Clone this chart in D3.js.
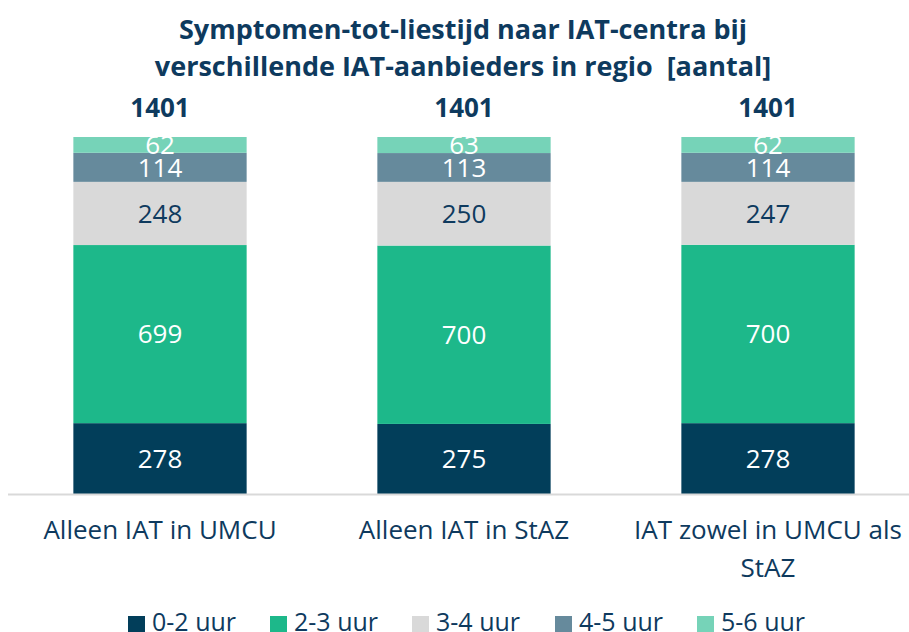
<!DOCTYPE html>
<html>
<head>
<meta charset="utf-8">
<script src="https://cdn.jsdelivr.net/npm/d3@7"></script>
<style>
  body { margin: 0; background: #fff; }
  text { font-family: "Open Sans", "Noto Sans", sans-serif; }
</style>
</head>
<body>
<script>
// Data
const categories = ["Alleen IAT in UMCU", "Alleen IAT in StAZ", "IAT zowel in UMCU als StAZ"];
const series = ["0-2 uur", "2-3 uur", "3-4 uur", "4-5 uur", "5-6 uur"];
const values = {
    "0-2 uur": [278, 275, 278],
    "2-3 uur": [699, 700, 700],
    "3-4 uur": [248, 250, 247],
    "4-5 uur": [114, 113, 114],
    "5-6 uur": [62, 63, 62]
};
const totals = [1401, 1401, 1401];

const colors = ["#023E5A", "#1DB88A", "#D9D9D9", "#668A9C", "#76D3B8"];
const labelColors = ["#fff", "#fff", "#0E3A5E", "#fff", "#fff"];
const navy = "#0E3A5E";

const width = 909, height = 632;
const margin = { top: 137, bottom: 138, left: 8, right: -11 };

const svg = d3.select("body").append("svg")
    .attr("width", width)
    .attr("height", height);

const xScale = d3.scaleBand()
    .domain(categories)
    .range([margin.left, width - margin.right])
    .paddingInner(0.43)
    .paddingOuter(0.215);

const yScale = d3.scaleLinear()
    .domain([0, 1401])
    .range([height - margin.bottom, margin.top]);

// Title
const title = ["Symptomen-tot-liestijd naar IAT-centra bij", "verschillende IAT-aanbieders in regio  [aantal]"];
svg.append("text")
    .attr("text-anchor", "middle")
    .style("font-size", "27px")
    .style("font-weight", "bold")
    .style("white-space", "pre")
    .attr("fill", navy)
    .selectAll("tspan")
    .data(title)
    .join("tspan")
    .attr("x", 463)
    .attr("y", (d, i) => 39 + i * 37)
    .text(d => d);

// Stack
const rows = categories.map((c, i) => {
    const r = { category: c };
    series.forEach(s => r[s] = values[s][i]);
    return r;
});
const stacked = d3.stack().keys(series)(rows);

const layers = svg.selectAll("g.layer")
    .data(stacked)
    .join("g")
    .attr("class", "layer");

layers.each(function(layer, li) {
    d3.select(this).selectAll("rect")
        .data(layer)
        .join("rect")
        .attr("x", d => xScale(d.data.category))
        .attr("y", d => yScale(d[1]))
        .attr("width", xScale.bandwidth())
        .attr("height", d => yScale(d[0]) - yScale(d[1]))
        .attr("fill", colors[li]);
});

// Segment labels
layers.each(function(layer, li) {
    d3.select(this).selectAll("text")
        .data(layer)
        .join("text")
        .attr("x", d => xScale(d.data.category) + xScale.bandwidth() / 2)
        .attr("y", d => (yScale(d[0]) + yScale(d[1])) / 2)
        .attr("dy", "0.36em")
        .attr("text-anchor", "middle")
        .attr("fill", labelColors[li])
        .style("font-size", "26px")
        .text(d => d.data[layer.key]);
});

// Totals
svg.selectAll("text.total")
    .data(totals)
    .join("text")
    .attr("class", "total")
    .attr("x", (d, i) => xScale(categories[i]) + xScale.bandwidth() / 2)
    .attr("y", 117)
    .attr("text-anchor", "middle")
    .attr("fill", navy)
    .style("font-size", "26px")
    .style("font-weight", "bold")
    .text(d => d);

// Axis line
svg.append("line")
    .attr("x1", 8)
    .attr("x2", width)
    .attr("y1", yScale(0) + 0.5)
    .attr("y2", yScale(0) + 0.5)
    .attr("stroke", "#D9D9D9")
    .attr("stroke-width", 2);

// Category labels (wrapped)
const catLines = [["Alleen IAT in UMCU"], ["Alleen IAT in StAZ"], ["IAT zowel in UMCU als", "StAZ"]];
categories.forEach((c, i) => {
    svg.append("text")
        .attr("text-anchor", "middle")
        .attr("fill", navy)
        .style("font-size", "26px")
        .selectAll("tspan")
        .data(catLines[i])
        .join("tspan")
        .attr("x", xScale(c) + xScale.bandwidth() / 2)
        .attr("y", (d, j) => 539 + j * 38)
        .text(d => d);
});

// Legend
const legendX = [128, 270, 412, 555, 697];
const legend = svg.selectAll("g.legend")
    .data(series)
    .join("g")
    .attr("class", "legend")
    .attr("transform", (d, i) => `translate(${legendX[i]},616)`);

legend.append("rect")
    .attr("width", 17)
    .attr("height", 17)
    .attr("fill", (d, i) => colors[i]);

legend.append("text")
    .attr("x", 24)
    .attr("y", 15)
    .attr("fill", navy)
    .style("font-size", "25px")
    .text(d => d);
</script>
</body>
</html>
